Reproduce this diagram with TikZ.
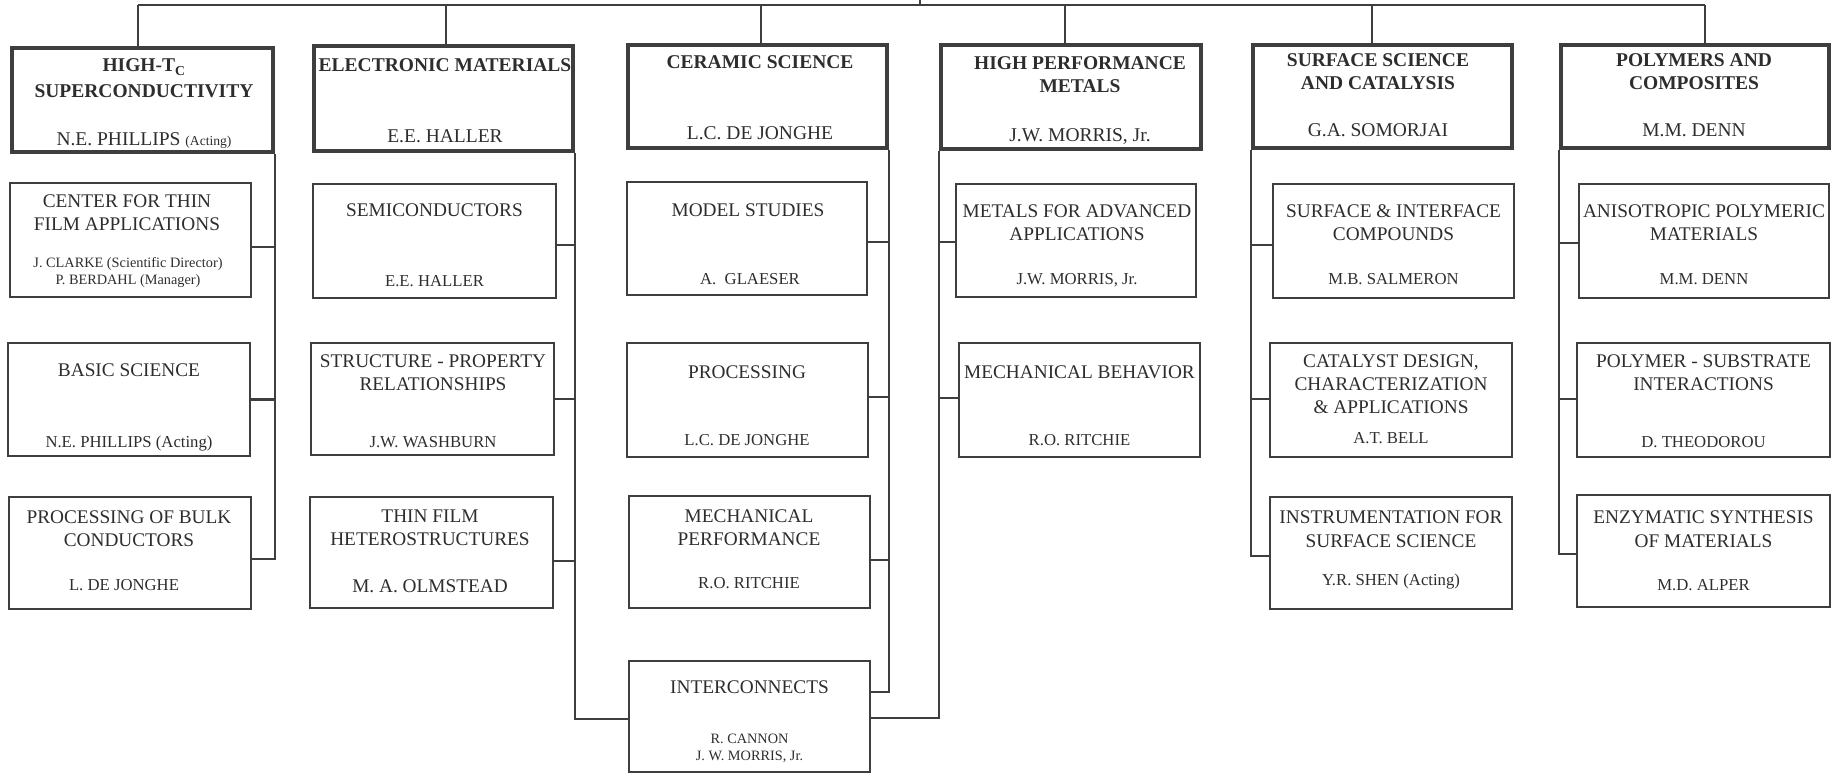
\documentclass[tikz,border=0pt]{standalone}
\usepackage{fontspec}
\setmainfont{Liberation Serif}
\definecolor{ink}{RGB}{62,62,62}
\definecolor{txt}{RGB}{45,45,45}
\newcommand\otx[5]{\node[#1] (#2) at (#3,#4) {#5};}
\begin{document}
\begin{tikzpicture}[x=1pt,y=-1pt,
  mainbox/.style={draw=ink,line width=4pt,outer sep=2pt,inner sep=0pt,rectangle},
  subbox/.style={draw=ink,line width=2.2pt,outer sep=1.1pt,inner sep=0pt,rectangle},
  conn/.style={draw=ink,line width=2.2pt},
  hd/.style={anchor=base,inner sep=0pt,text=txt,font=\fontsize{19.5}{23}\selectfont\bfseries},
  st/.style={anchor=base,inner sep=0pt,text=txt,font=\fontsize{19.3}{23}\selectfont},
  mn/.style={anchor=base,inner sep=0pt,text=txt,font=\fontsize{19.5}{23}\selectfont},
  sn/.style={anchor=base,inner sep=0pt,text=txt,font=\fontsize{16.7}{20}\selectfont},
  sm/.style={anchor=base,inner sep=0pt,text=txt,font=\fontsize{14.3}{17}\selectfont}]
\useasboundingbox (0,0) rectangle (1833,775);

% main boxes
\node[mainbox,minimum width=261,minimum height=104] (b1) at (142.5,100) {};
\node[mainbox,minimum width=259,minimum height=105] (b2) at (443.5,98.5) {};
\node[mainbox,minimum width=259,minimum height=103] (b3) at (757.5,96.5) {};
\node[mainbox,minimum width=260,minimum height=104] (b4) at (1071,97) {};
\node[mainbox,minimum width=259,minimum height=103] (b5) at (1382.5,96.5) {};
\node[mainbox,minimum width=268,minimum height=103] (b6) at (1695,96.5) {};

% sub boxes
\node[subbox,minimum width=240.8,minimum height=113.8] (cft) at (130.5,240) {};
\node[subbox,minimum width=241.8,minimum height=112.8] (bas) at (129,399.5) {};
\node[subbox,minimum width=241.8,minimum height=111.8] (blk) at (130,553) {};
\node[subbox,minimum width=242.8,minimum height=113.8] (sem) at (434.5,241) {};
\node[subbox,minimum width=242.8,minimum height=111.8] (str) at (432.5,399) {};
\node[subbox,minimum width=242.8,minimum height=110.8] (thn) at (431.5,552.5) {};
\node[subbox,minimum width=239.8,minimum height=112.8] (mod) at (747,238.5) {};
\node[subbox,minimum width=240.8,minimum height=113.8] (prc) at (747.5,400) {};
\node[subbox,minimum width=240.8,minimum height=111.8] (mch) at (749.5,552) {};
\node[subbox,minimum width=240.8,minimum height=110.8] (int) at (749.5,716.5) {};
\node[subbox,minimum width=239.8,minimum height=112.8] (met) at (1076,240.5) {};
\node[subbox,minimum width=240.8,minimum height=113.8] (mbh) at (1079.5,400) {};
\node[subbox,minimum width=240.8,minimum height=113.8] (sif) at (1393.5,241) {};
\node[subbox,minimum width=241.8,minimum height=113.8] (cat) at (1391,400) {};
\node[subbox,minimum width=241.8,minimum height=111.8] (ins) at (1391,553) {};
\node[subbox,minimum width=249.8,minimum height=113.8] (ani) at (1704,241) {};
\node[subbox,minimum width=252.8,minimum height=113.8] (pol) at (1703.5,400) {};
\node[subbox,minimum width=252.8,minimum height=111.8] (enz) at (1703.5,551) {};

% top bus
\coordinate (busL) at (138,5);
\coordinate (busR) at (1705,5);
\coordinate (busC) at (920,5);
\coordinate (parent) at (920,-3);
\draw[conn] (busL) -- (busR);
\draw[conn] (busC) -- (parent);
\draw[conn] ([xshift=-4.5]b1.north) -- ([xshift=-4.5]b1.north |- busL);
\draw[conn] ([xshift=2.5]b2.north) -- ([xshift=2.5]b2.north |- busL);
\draw[conn] ([xshift=3.5]b3.north) -- ([xshift=3.5]b3.north |- busL);
\draw[conn] ([xshift=-6]b4.north) -- ([xshift=-6]b4.north |- busL);
\draw[conn] ([xshift=-10.5]b5.north) -- ([xshift=-10.5]b5.north |- busL);
\draw[conn] ([xshift=10]b6.north) -- ([xshift=10]b6.north |- busL);

% column 1
\draw[conn] (b1.south east) |- ([yshift=-6]blk.east);
\draw[conn] ([yshift=-7]cft.east) -- ([yshift=-7]cft.east -| b1.south east);
\draw[conn] (bas.east) -- (bas.east -| b1.south east);
% column 2
\draw[conn] (b2.south east) |- ([yshift=-2.5]int.west);
\draw[conn] ([yshift=-4]sem.east) -- ([yshift=-4]sem.east -| b2.south east);
\draw[conn] (str.east) -- (str.east -| b2.south east);
\draw[conn] ([yshift=-8.5]thn.east) -- ([yshift=-8.5]thn.east -| b2.south east);
% column 3
\draw[conn] (b3.south east) |- ([yshift=24.5]int.east);
\draw[conn] ([yshift=-3.5]mod.east) -- ([yshift=-3.5]mod.east -| b3.south east);
\draw[conn] ([yshift=3]prc.east) -- ([yshift=3]prc.east -| b3.south east);
\draw[conn] ([yshift=-8]mch.east) -- ([yshift=-8]mch.east -| b3.south east);
% column 4
\draw[conn] (b4.south west) |- ([yshift=-1.5]int.east);
\draw[conn] ([yshift=-1.5]met.west) -- ([yshift=-1.5]met.west -| b4.south west);
\draw[conn] ([yshift=2]mbh.west) -- ([yshift=2]mbh.west -| b4.south west);
% column 5
\draw[conn] (b5.south west) |- ([yshift=-3]ins.west);
\draw[conn] ([yshift=-4]sif.west) -- ([yshift=-4]sif.west -| b5.south west);
\draw[conn] ([yshift=1]cat.west) -- ([yshift=1]cat.west -| b5.south west);
% column 6
\draw[conn] (b6.south west) |- ([yshift=-3]enz.west);
\draw[conn] ([yshift=-2]ani.west) -- ([yshift=-2]ani.west -| b6.south west);
\draw[conn] ([yshift=1]pol.west) -- ([yshift=1]pol.west -| b6.south west);

% main box texts
\otx{hd}{b1a}{144}{72}{HIGH-T\textsubscript{C}}
\otx{hd}{b1b}{144}{98}{SUPERCONDUCTIVITY}
\otx{mn}{b1n}{144}{146}{N.E. PHILLIPS {\fontsize{13.6}{16}\selectfont(Acting)}}
\otx{hd}{b2a}{445}{72}{ELECTRONIC MATERIALS}
\otx{mn}{b2n}{445}{143}{E.E. HALLER}
\otx{hd}{b3a}{760}{69}{CERAMIC SCIENCE}
\otx{mn}{b3n}{760}{140}{L.C. DE JONGHE}
\otx{hd}{b4a}{1080}{70}{HIGH PERFORMANCE}
\otx{hd}{b4b}{1080}{93}{METALS}
\otx{mn}{b4n}{1080}{142}{J.W. MORRIS, Jr.}
\otx{hd}{b5a}{1378}{67}{SURFACE SCIENCE}
\otx{hd}{b5b}{1378}{90}{AND CATALYSIS}
\otx{mn}{b5n}{1378}{137}{G.A. SOMORJAI}
\otx{hd}{b6a}{1694}{67}{POLYMERS AND}
\otx{hd}{b6b}{1694}{90}{COMPOSITES}
\otx{mn}{b6n}{1694}{137}{M.M. DENN}

% column 1 texts
\otx{st}{cfta}{127}{208}{CENTER FOR THIN}
\otx{st}{cftb}{127}{231}{FILM APPLICATIONS}
\otx{sm}{cftn}{128}{268}{J. CLARKE (Scientific Director)}
\otx{sm}{cftm}{128}{285}{P. BERDAHL (Manager)}
\otx{st}{basa}{129}{377}{BASIC SCIENCE}
\otx{sn}{basn}{129}{447}{N.E. PHILLIPS (Acting)}
\otx{st}{blka}{129}{523}{PROCESSING OF BULK}
\otx{st}{blkb}{129}{546}{CONDUCTORS}
\otx{sn}{blkn}{124}{590}{L. DE JONGHE}
% column 2 texts
\otx{st}{sema}{434.5}{217}{SEMICONDUCTORS}
\otx{sn}{semn}{434.5}{287}{E.E. HALLER}
\otx{st}{stra}{433}{367}{STRUCTURE - PROPERTY}
\otx{st}{strb}{433}{390}{RELATIONSHIPS}
\otx{sn}{strn}{433}{447}{J.W. WASHBURN}
\otx{st}{thna}{430}{522}{THIN FILM}
\otx{st}{thnb}{430}{545}{HETEROSTRUCTURES}
\otx{st}{thnn}{430}{592}{M. A. OLMSTEAD}
% column 3 texts
\otx{st}{moda}{748}{217}{MODEL STUDIES}
\otx{sn}{modn}{750}{285}{A.\ \ GLAESER}
\otx{st}{prca}{747}{378}{PROCESSING}
\otx{sn}{prcn}{747}{445}{L.C. DE JONGHE}
\otx{st}{mcha}{749}{522}{MECHANICAL}
\otx{st}{mchb}{749}{545}{PERFORMANCE}
\otx{sn}{mchn}{749}{588}{R.O. RITCHIE}
\otx{st}{inta}{749.5}{693}{INTERCONNECTS}
\otx{sm}{intn}{749.5}{743}{R. CANNON}
\otx{sm}{intm}{749.5}{760}{J. W. MORRIS, Jr.}
% column 4 texts
\otx{st}{meta}{1077}{218}{METALS FOR ADVANCED}
\otx{st}{metb}{1077}{241}{APPLICATIONS}
\otx{sn}{metn}{1077}{285}{J.W. MORRIS, Jr.}
\otx{st}{mbha}{1079.5}{378}{MECHANICAL BEHAVIOR}
\otx{sn}{mbhn}{1079.5}{445}{R.O. RITCHIE}
% column 5 texts
\otx{st}{sifa}{1393.5}{218}{SURFACE \& INTERFACE}
\otx{st}{sifb}{1393.5}{241}{COMPOUNDS}
\otx{sn}{sifn}{1393.5}{285}{M.B. SALMERON}
\otx{st}{cata}{1391}{367}{CATALYST DESIGN,}
\otx{st}{catb}{1391}{390}{CHARACTERIZATION}
\otx{st}{catc}{1391}{413}{\& APPLICATIONS}
\otx{sn}{catn}{1391}{443}{A.T. BELL}
\otx{st}{insa}{1391}{523}{INSTRUMENTATION FOR}
\otx{st}{insb}{1391}{547}{SURFACE SCIENCE}
\otx{sn}{insn}{1391}{585}{Y.R. SHEN (Acting)}
% column 6 texts
\otx{st}{ania}{1704}{218}{ANISOTROPIC POLYMERIC}
\otx{st}{anib}{1704}{241}{MATERIALS}
\otx{sn}{anin}{1704}{285}{M.M. DENN}
\otx{st}{pola}{1703.5}{367}{POLYMER - SUBSTRATE}
\otx{st}{polb}{1703.5}{390}{INTERACTIONS}
\otx{sn}{poln}{1703.5}{447}{D. THEODOROU}
\otx{st}{enza}{1703.5}{523}{ENZYMATIC SYNTHESIS}
\otx{st}{enzb}{1703.5}{547}{OF MATERIALS}
\otx{sn}{enzn}{1703.5}{590}{M.D. ALPER}
\end{tikzpicture}
\end{document}
